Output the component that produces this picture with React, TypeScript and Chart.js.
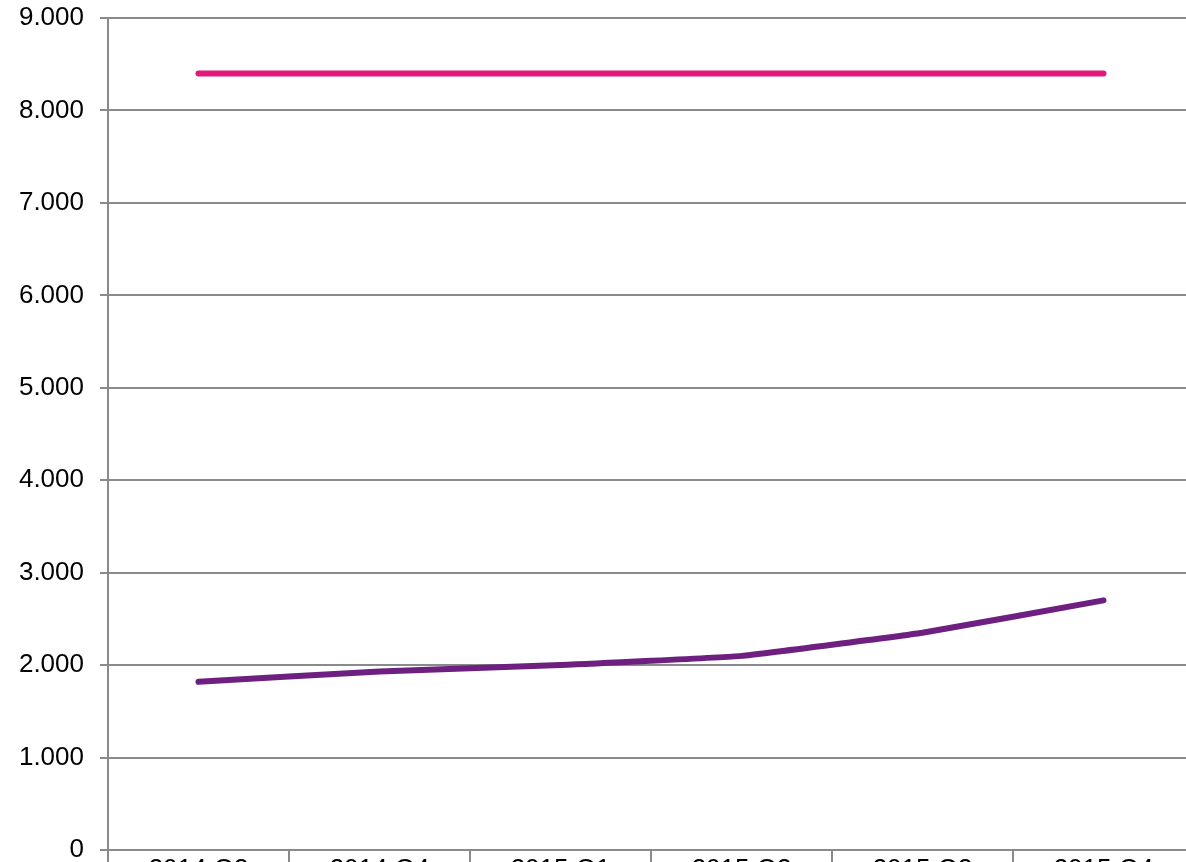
import React, { useEffect, useRef } from "react";
import { Chart, registerables } from "chart.js";

Chart.register(...registerables);

const categories = ["2014 Q3", "2014 Q4", "2015 Q1", "2015 Q2", "2015 Q3", "2015 Q4"];
const pinkValues = [8400, 8400, 8400, 8400, 8400, 8400];
const purpleValues = [1820, 1930, 2000, 2100, 2350, 2700];
const yTicks = [0, 1000, 2000, 3000, 4000, 5000, 6000, 7000, 8000, 9000];

const fmt = (v: number) => String(v).replace(/\B(?=(\d{3})+(?!\d))/g, ".");

export default function App() {
  const ref = useRef<HTMLCanvasElement | null>(null);
  useEffect(() => {
    if (!ref.current) return;
    const gridColor = "#8a8a8a";
    const font = { family: "'Liberation Sans', Arial, Helvetica, sans-serif", size: 26 };
    const chart = new Chart(ref.current, {
      type: "line",
      data: {
        labels: categories,
        datasets: [
          {
            data: pinkValues,
            borderColor: "#E3187A",
            borderWidth: 6,
            borderCapStyle: "round",
            pointRadius: 0,
            tension: 0,
          },
          {
            data: purpleValues,
            borderColor: "#6E2080",
            borderWidth: 6,
            borderCapStyle: "round",
            pointRadius: 0,
            tension: 0.1,
          },
        ],
      },
      options: {
        animation: false,
        responsive: false,
        maintainAspectRatio: false,
        layout: { padding: { top: 18, right: 6, left: 0, bottom: 0 } },
        plugins: { legend: { display: false }, tooltip: { enabled: false } },
        scales: {
          x: {
            offset: true,
            grid: {
              offset: true,
              drawOnChartArea: false,
              drawTicks: true,
              tickLength: 40,
              color: gridColor,
              lineWidth: 2,
            },
            border: { color: gridColor, width: 2 },
            ticks: { color: "#000", font, padding: -36, maxRotation: 0 },
            afterFit: (s: any) => {
              s.height = 50;
              s.paddingLeft = 0;
              s.paddingRight = 0;
            },
          },
          y: {
            min: 0,
            max: 9000,
            afterBuildTicks: (s: any) => {
              s.ticks = yTicks.map((v) => ({ value: v }));
            },
            grid: { color: gridColor, lineWidth: 2, tickLength: 8 },
            border: { color: gridColor, width: 2 },
            ticks: {
              color: "#000",
              font,
              padding: 16,
              callback: (v: any) => fmt(Number(v)),
            },
            afterFit: (s: any) => {
              s.width = 108;
              s.paddingTop = 0;
              s.paddingBottom = 0;
            },
          },
        },
      },
    } as any);
    return () => chart.destroy();
  }, []);
  return (
    <div style={{ position: "absolute", left: 0, top: 0, width: 1200, height: 900 }}>
      <canvas ref={ref} width={1200} height={900} style={{ display: "block" }} />
    </div>
  );
}
